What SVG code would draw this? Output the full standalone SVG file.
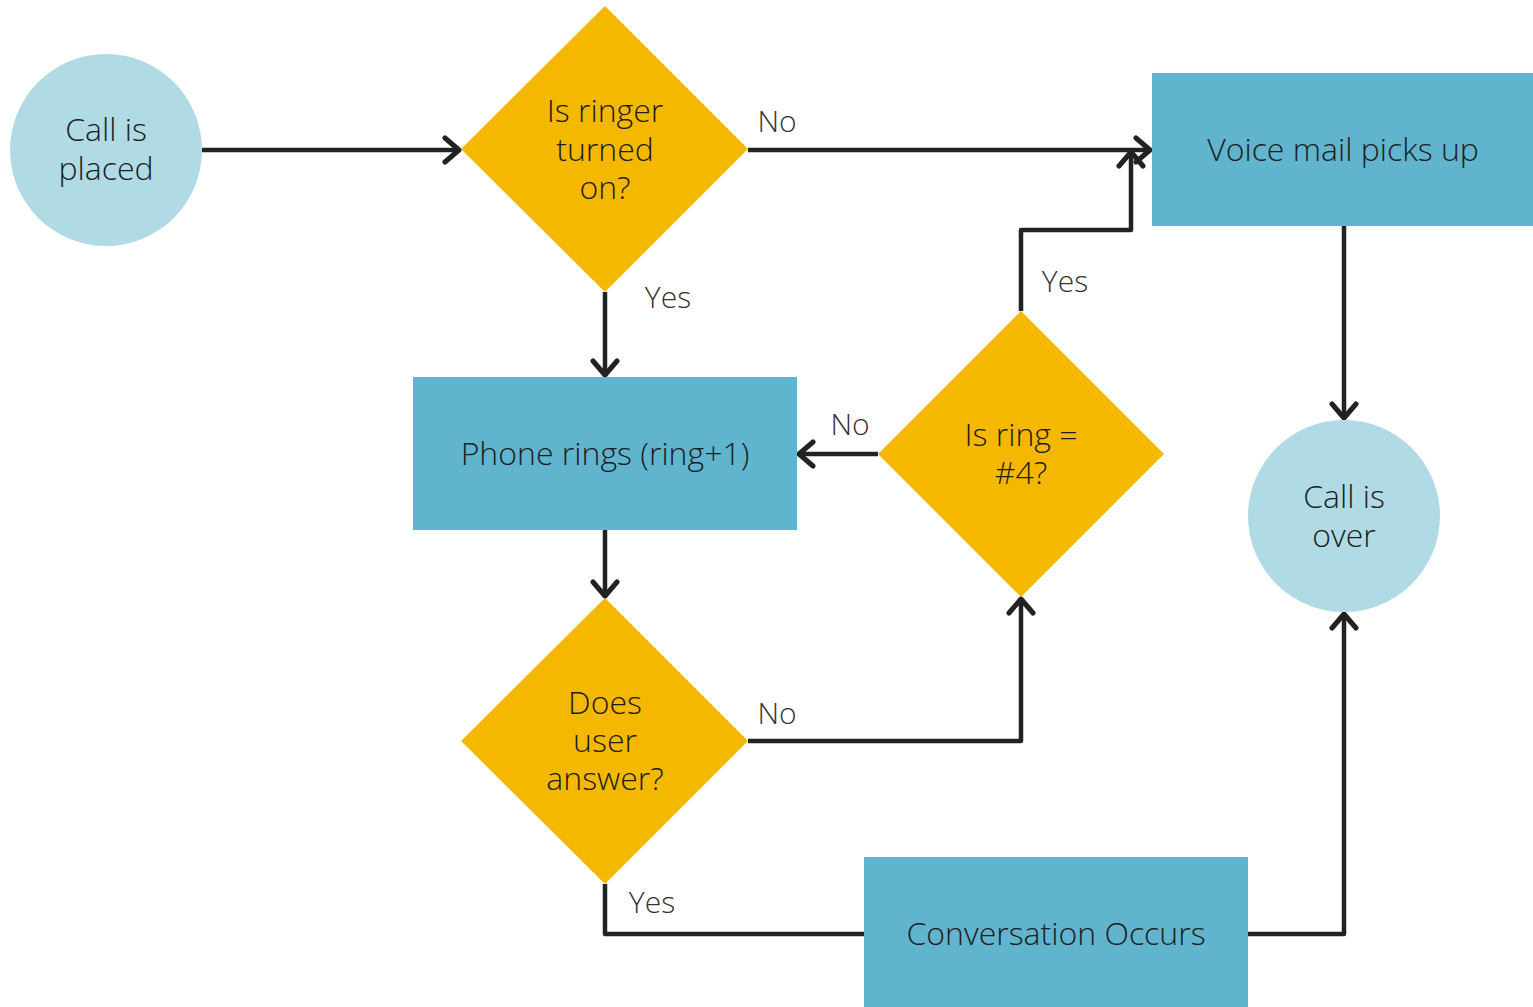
<svg xmlns="http://www.w3.org/2000/svg" width="1533" height="1007" viewBox="0 0 1533 1007">
<style>
.circle{fill:#b0dbe5}
.dia{fill:#f5b800}
.box{fill:#60b4ce}
.t{font-family:"Open Sans","Liberation Sans",sans-serif;font-weight:300;font-size:32px;fill:#1e1e1e;text-anchor:middle}
.lbl{font-family:"Open Sans","Liberation Sans",sans-serif;font-weight:300;font-size:30px;fill:#333;text-anchor:middle}
.c{fill:none;stroke:#222;stroke-width:4.5;stroke-linejoin:round}
</style>
<defs>
<marker id="arr" markerUnits="userSpaceOnUse" markerWidth="30" markerHeight="30" viewBox="-20 -15 30 30" refX="0" refY="0" orient="auto">
<path d="M-14,-12 L0,0 L-14,12" fill="none" stroke="#222" stroke-width="5" stroke-linecap="round" stroke-linejoin="round"/>
</marker>
</defs>
<rect width="1533" height="1007" fill="#fff"/>
<g id="connectors">
<path class="c" d="M202,150 H459" marker-end="url(#arr)"/>
<path class="c" d="M748,150 H1150" marker-end="url(#arr)"/>
<path class="c" d="M605,292 V375" marker-end="url(#arr)"/>
<path class="c" d="M1021,311 V230 H1131 V152" marker-end="url(#arr)"/>
<path class="c" d="M878,454 H799" marker-end="url(#arr)"/>
<path class="c" d="M605,530 V596" marker-end="url(#arr)"/>
<path class="c" d="M748,741 H1021 V599" marker-end="url(#arr)"/>
<path class="c" d="M605,884 V934 H864"/>
<path class="c" d="M1248,934 H1344 V614" marker-end="url(#arr)"/>
<path class="c" d="M1344,226 V418" marker-end="url(#arr)"/>
<text class="lbl" x="777" y="132">No</text>
<text class="lbl" x="668" y="308">Yes</text>
<text class="lbl" x="1065" y="292">Yes</text>
<text class="lbl" x="850" y="435">No</text>
<text class="lbl" x="777" y="724">No</text>
<text class="lbl" x="652" y="913">Yes</text>
</g>
<g id="start">
<circle class="circle" cx="106" cy="150" r="96"/>
<text class="t" x="106" y="141">Call is</text>
<text class="t" x="106" y="180">placed</text>
</g>
<g id="ringer">
<polygon class="dia" points="605,6 748,149 605,292 461,149"/>
<text class="t" x="605" y="122">Is ringer</text>
<text class="t" x="605" y="161">turned</text>
<text class="t" x="605" y="199">on?</text>
</g>
<g id="voicemail">
<rect class="box" x="1152" y="73" width="381" height="153"/>
<text class="t" x="1343" y="161">Voice mail picks up</text>
</g>
<g id="phonerings">
<rect class="box" x="413" y="377" width="384" height="153"/>
<text class="t" x="605" y="465">Phone rings (ring+1)</text>
</g>
<g id="ring4">
<polygon class="dia" points="1021,311 1164,454 1021,597 878,454"/>
<text class="t" x="1021" y="446">Is ring =</text>
<text class="t" x="1021" y="484">#4?</text>
</g>
<g id="answer">
<polygon class="dia" points="605,598 748,741 605,884 461,741"/>
<text class="t" x="605" y="714">Does</text>
<text class="t" x="605" y="752">user</text>
<text class="t" x="605" y="790">answer?</text>
</g>
<g id="over">
<circle class="circle" cx="1344" cy="516" r="96"/>
<text class="t" x="1344" y="508">Call is</text>
<text class="t" x="1344" y="547">over</text>
</g>
<g id="conversation">
<rect class="box" x="864" y="857" width="384" height="150"/>
<text class="t" x="1056" y="945">Conversation Occurs</text>
</g>
</svg>
